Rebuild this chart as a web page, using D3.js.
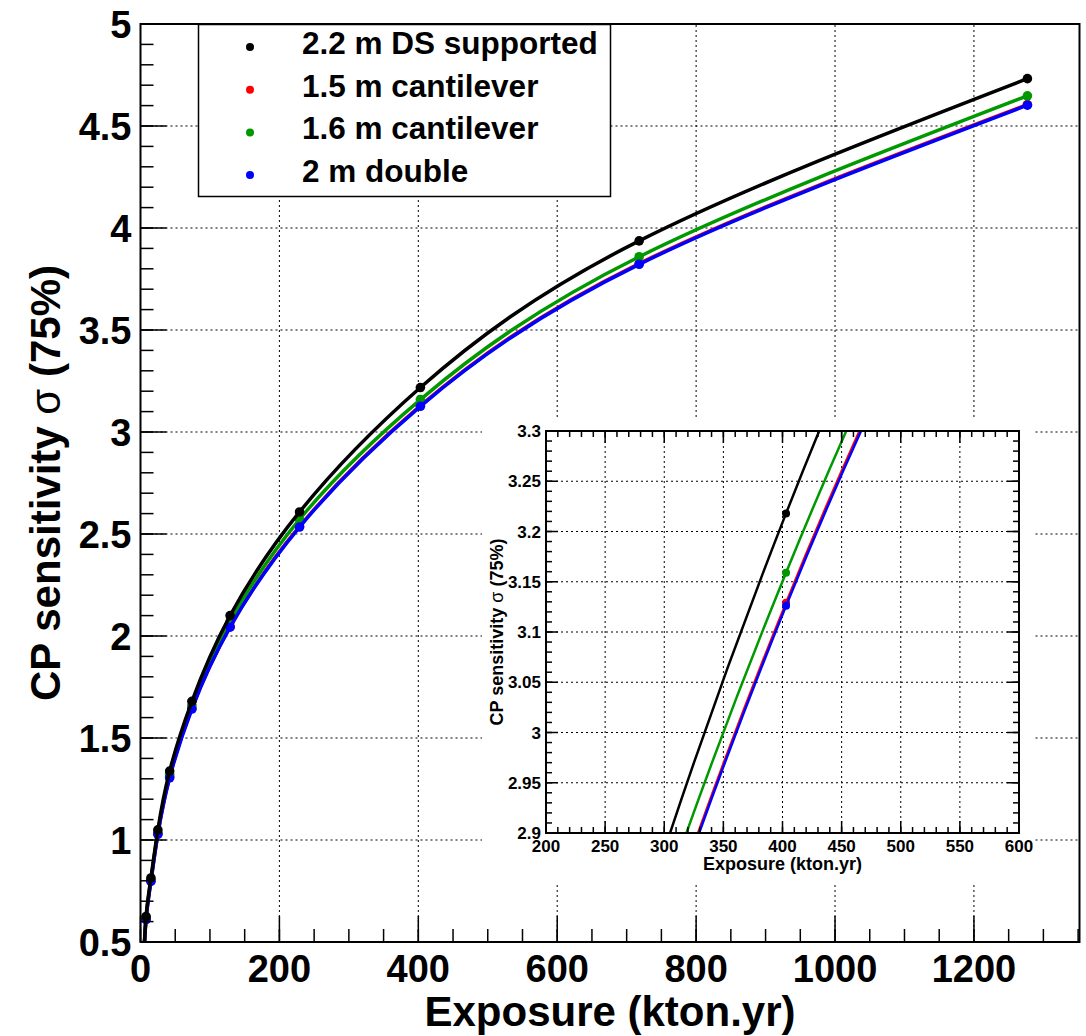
<!DOCTYPE html>
<html>
<head>
<meta charset="utf-8">
<script src="https://cdn.jsdelivr.net/npm/d3@7"></script>
<style>
body { margin: 0; background: #fff; }
text { font-family: "Liberation Sans", Arial, sans-serif; font-weight: bold; fill: #000; }
</style>
</head>
<body>
<div id="chart"></div>
<script>
// exposure in kton.yr, first point sits below the y range and gets clipped
var exposure = [4, 8, 15, 25, 42, 74, 129, 229, 403, 718, 1277]
var ds22 = [0.38, 0.625, 0.814, 1.05, 1.338, 1.68, 2.10, 2.608, 3.218, 3.937, 4.732]
var cant15 = [0.37, 0.612, 0.800, 1.03, 1.310, 1.645, 2.046, 2.537, 3.129, 3.826, 4.605]
var cant16 = [0.375, 0.618, 0.806, 1.038, 1.322, 1.66, 2.07, 2.572, 3.159, 3.859, 4.648]
var double2 = [0.37, 0.610, 0.797, 1.028, 1.305, 1.642, 2.043, 2.534, 3.126, 3.822, 4.602]

var seriesNames = ["2.2 m DS supported", "1.5 m cantilever", "1.6 m cantilever", "2 m double"]
var seriesColors = ["#000000", "#ff0000", "#009900", "#0000ff"]
var seriesValues = [ds22, cant15, cant16, double2]
var drawOrder = [1, 2, 3, 0]

var xTicks = [0, 200, 400, 600, 800, 1000, 1200]
var yTicks = [0.5, 1, 1.5, 2, 2.5, 3, 3.5, 4, 4.5, 5]
var yTickLabels = ["0.5", "1", "1.5", "2", "2.5", "3", "3.5", "4", "4.5", "5"]
var insetXTicks = [200, 250, 300, 350, 400, 450, 500, 550, 600]
var insetYTicks = [2.9, 2.95, 3, 3.05, 3.1, 3.15, 3.2, 3.25, 3.3]
var insetYTickLabels = ["2.9", "2.95", "3", "3.05", "3.1", "3.15", "3.2", "3.25", "3.3"]

var W = 1086, H = 1036

var svg = d3.select("#chart").append("svg")
    .attr("width", W).attr("height", H)

svg.append("rect").attr("width", W).attr("height", H).attr("fill", "#fff")

var x = d3.scaleLinear().domain([0, 1352]).range([140.5, 1079.5])
var y = d3.scaleLinear().domain([0.5, 5]).range([942, 24])

function pts(i) {
    return exposure.map(function(e, k) { return [e, seriesValues[i][k]] })
}

// draws one framed pad: grid, curves, markers, ticks, frame
function drawPad(g, xs, ys, opt) {
    var x0 = xs.range()[0], x1 = xs.range()[1]
    var y0 = ys.range()[0], y1 = ys.range()[1]

    g.append("clipPath").attr("id", opt.id)
        .append("rect").attr("x", x0).attr("y", y1).attr("width", x1 - x0).attr("height", y0 - y1)

    g.selectAll(".gx").data(opt.xTicks).enter().append("line")
        .attr("x1", function(d) { return xs(d) }).attr("x2", function(d) { return xs(d) })
        .attr("y1", y0).attr("y2", y1)
        .attr("stroke", "#000").attr("stroke-width", 1).attr("stroke-dasharray", "2,3")
    g.selectAll(".gy").data(opt.yTicks).enter().append("line")
        .attr("x1", x0).attr("x2", x1)
        .attr("y1", function(d) { return ys(d) }).attr("y2", function(d) { return ys(d) })
        .attr("stroke", "#000").attr("stroke-width", 1).attr("stroke-dasharray", "2,3")

    var line = d3.line()
        .x(function(d) { return xs(d[0]) })
        .y(function(d) { return ys(d[1]) })
        .curve(d3.curveNatural)

    var plot = g.append("g").attr("clip-path", "url(#" + opt.id + ")")
    drawOrder.forEach(function(i) {
        plot.append("path").datum(pts(i))
            .attr("d", line)
            .attr("fill", "none")
            .attr("stroke", seriesColors[i])
            .attr("stroke-width", opt.lw)
        plot.selectAll(".m" + i).data(pts(i)).enter().append("circle")
            .attr("cx", function(d) { return xs(d[0]) })
            .attr("cy", function(d) { return ys(d[1]) })
            .attr("r", opt.r)
            .attr("fill", seriesColors[i])
    })

    // ticks, pointing inwards
    var minorX = d3.range(xs.domain()[0], xs.domain()[1] + 1e-9, opt.minorX)
    var minorY = d3.range(ys.domain()[0], ys.domain()[1] + 1e-9, opt.minorY)
    var sides = opt.mirror ? [0, 1] : [0]
    sides.forEach(function(s) {
        var by = s == 0 ? y0 : y1, dirY = s == 0 ? -1 : 1
        var bx = s == 0 ? x0 : x1, dirX = s == 0 ? 1 : -1
        g.selectAll(".tmx" + s).data(minorX).enter().append("line")
            .attr("x1", function(d) { return xs(d) }).attr("x2", function(d) { return xs(d) })
            .attr("y1", by).attr("y2", by + dirY * opt.minorLen)
            .attr("stroke", "#000").attr("stroke-width", 1.5)
        g.selectAll(".tMx" + s).data(opt.xTicks).enter().append("line")
            .attr("x1", function(d) { return xs(d) }).attr("x2", function(d) { return xs(d) })
            .attr("y1", by).attr("y2", by + dirY * opt.majorLen)
            .attr("stroke", "#000").attr("stroke-width", 1.5)
        g.selectAll(".tmy" + s).data(minorY).enter().append("line")
            .attr("y1", function(d) { return ys(d) }).attr("y2", function(d) { return ys(d) })
            .attr("x1", bx).attr("x2", bx + dirX * opt.minorLen)
            .attr("stroke", "#000").attr("stroke-width", 1.5)
        g.selectAll(".tMy" + s).data(opt.yTicks).enter().append("line")
            .attr("y1", function(d) { return ys(d) }).attr("y2", function(d) { return ys(d) })
            .attr("x1", bx).attr("x2", bx + dirX * opt.majorLen)
            .attr("stroke", "#000").attr("stroke-width", 1.5)
    })

    g.append("rect")
        .attr("x", x0).attr("y", y1).attr("width", x1 - x0).attr("height", y0 - y1)
        .attr("fill", "none").attr("stroke", "#000").attr("stroke-width", 2)

    g.selectAll(".lx").data(opt.xTicks).enter().append("text")
        .attr("x", function(d) { return xs(d) })
        .attr("y", y0 + opt.xLabOff)
        .attr("text-anchor", "middle")
        .style("font-size", opt.fs + "px")
        .text(function(d) { return d })
    g.selectAll(".ly").data(opt.yTicks).enter().append("text")
        .attr("x", x0 - opt.yLabOff)
        .attr("y", function(d) { return ys(d) })
        .attr("dy", "0.36em")
        .attr("text-anchor", "end")
        .style("font-size", opt.fs + "px")
        .text(function(d, i) { return opt.yLabels[i] })

    g.append("text")
        .attr("x", (x0 + x1) / 2).attr("y", y0 + opt.xTitleOff)
        .attr("text-anchor", "middle")
        .style("font-size", opt.tfs + "px")
        .text("Exposure (kton.yr)")

    var yt = g.append("text")
        .attr("transform", "translate(" + opt.yTitleX + "," + (y0 + y1) / 2 + ") rotate(-90)")
        .attr("text-anchor", "middle")
        .style("font-size", opt.tfs + "px")
    yt.append("tspan").text("CP sensitivity ")
    yt.append("tspan").style("font-weight", "normal").text(" \u03c3 ")
    yt.append("tspan").text(" (75%)")
}

var main = svg.append("g")
drawPad(main, x, y, {
    id: "clipMain", xTicks: xTicks, yTicks: yTicks, yLabels: yTickLabels,
    minorX: 50, minorY: 0.1, majorLen: 26, minorLen: 13, mirror: false,
    lw: 3.5, r: 4.8, fs: 38, tfs: 42,
    xLabOff: 40, yLabOff: 9, xTitleOff: 84, yTitleX: 60
})

// legend
var leg = svg.append("g")
leg.append("rect")
    .attr("x", 198.5).attr("y", 24.5).attr("width", 412).attr("height", 172)
    .attr("fill", "#fff").attr("stroke", "#000").attr("stroke-width", 1.5)
leg.selectAll("circle").data(seriesNames).enter().append("circle")
    .attr("cx", 250)
    .attr("cy", function(d, i) { return 47 + i * 42.7 })
    .attr("r", 4)
    .attr("fill", function(d, i) { return seriesColors[i] })
leg.selectAll("text").data(seriesNames).enter().append("text")
    .attr("x", 302)
    .attr("y", function(d, i) { return 54 + i * 42.7 })
    .style("font-size", "31.5px")
    .text(function(d) { return d })

// zoomed inset
var inset = svg.append("g")
inset.append("rect")
    .attr("x", 482).attr("y", 418).attr("width", 553).attr("height", 464)
    .attr("fill", "#fff")
var ix = d3.scaleLinear().domain([200, 600]).range([546, 1019])
var iy = d3.scaleLinear().domain([2.9, 3.3]).range([833, 431])
drawPad(inset, ix, iy, {
    id: "clipInset", xTicks: insetXTicks, yTicks: insetYTicks, yLabels: insetYTickLabels,
    minorX: 10, minorY: 0.01, majorLen: 12, minorLen: 6, mirror: true,
    lw: 2.5, r: 4, fs: 17, tfs: 18,
    xLabOff: 19, yLabOff: 5, xTitleOff: 37, yTitleX: 503
})
</script>
</body>
</html>
